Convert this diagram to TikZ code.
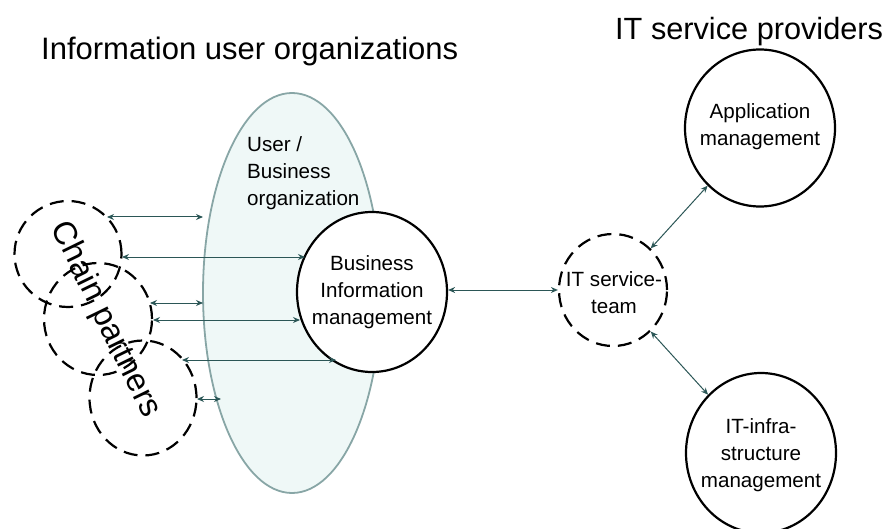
\documentclass[tikz,border=0pt]{standalone}
\usepackage{fontspec}
\setmainfont{Liberation Sans}
\usetikzlibrary{arrows.meta,shapes.geometric}
\definecolor{orgfill}{HTML}{EFF8F7}
\definecolor{orgline}{HTML}{88A6A6}
\definecolor{arr}{HTML}{2B5656}
\begin{document}
\begin{tikzpicture}[x=1pt,y=-1pt,
  title/.style={font=\fontsize{31}{36}\selectfont, inner sep=0},
  lbl/.style={font=\fontsize{20.6}{27}\selectfont, align=center, inner sep=0},
  solidc/.style={ellipse, draw=black, line width=2.2pt, fill=white, inner sep=0},
  dashc/.style={ellipse, draw=black, line width=2.2pt, dash pattern=on 14pt off 8pt, inner sep=0},
  biarrow/.style={draw=arr, line width=1pt, {Stealth[length=7pt,width=6pt]}-{Stealth[length=7pt,width=6pt]}},
]
\useasboundingbox (0,0) rectangle (893,529);

% titles
\node[title, anchor=base west] (t1) at (41,60) {Information user organizations};
\node[title, font=\fontsize{30.7}{36}\selectfont, anchor=base west] (t2) at (615,40) {IT service providers};

% user / business organization
\node[ellipse, draw=orgline, fill=orgfill, line width=1.8pt, minimum width=178pt, minimum height=400pt, inner sep=0] (org) at (292,293) {};
\node[lbl, align=left, anchor=north west] (orgtxt) at (247,136) {User /\\Business\\organization};

% business information management
\node[solidc, minimum width=150pt, minimum height=160pt] (bim) at (372,292) {};
\node[lbl] (bimtxt) at (bim) {Business\\Information\\management};

% chain partners
\node[dashc, minimum width=107pt, minimum height=106pt] (cp1) at (68,254) {};
\node[dashc, minimum width=108pt, minimum height=112pt] (cp2) at (98,319) {};
\node[dashc, minimum width=107pt, minimum height=115pt] (cp3) at (143,398) {};
\node[title, font=\fontsize{32.5}{36}\selectfont, rotate=-64] (cptxt) at (105,320) {Chain partners};

% IT side
\node[dashc, minimum width=108pt, minimum height=112pt] (team) at (613,290) {};
\node[lbl] (teamtxt) at (614,293) {IT service-\\team};
\node[solidc, minimum width=150pt, minimum height=157pt] (app) at (760,128) {};
\node[lbl] (apptxt) at (760,127) {Application\\management};
\node[solidc, minimum width=150pt, minimum height=160pt] (infra) at (761,453) {};
\node[lbl] (infratxt) at (761,455) {IT-infra-\\structure\\management};

% arrow end points
\coordinate (a1l) at (107,217); \coordinate (a1r) at (203,217);
\coordinate (a2l) at (122,257); \coordinate (a2r) at (305,257);
\coordinate (a3l) at (150,303); \coordinate (a3r) at (203,303);
\coordinate (a4l) at (153,320); \coordinate (a4r) at (300,320);
\coordinate (a5l) at (182,360); \coordinate (a5r) at (336,360);
\coordinate (a6l) at (197,399); \coordinate (a6r) at (221,399);

\draw[biarrow] (a1l) -- (a1r);
\draw[biarrow] (a2l) -- (a2r);
\draw[biarrow] (a3l) -- (a3r);
\draw[biarrow] (a4l) -- (a4r);
\draw[biarrow] (a5l) -- (a5r);
\draw[biarrow] (a6l) -- (a6r);

\draw[biarrow] (bim.east |- team.west) -- (team.west);
\draw[biarrow] (team) -- (app);
\draw[biarrow] (team) -- (infra);
\end{tikzpicture}
\end{document}
